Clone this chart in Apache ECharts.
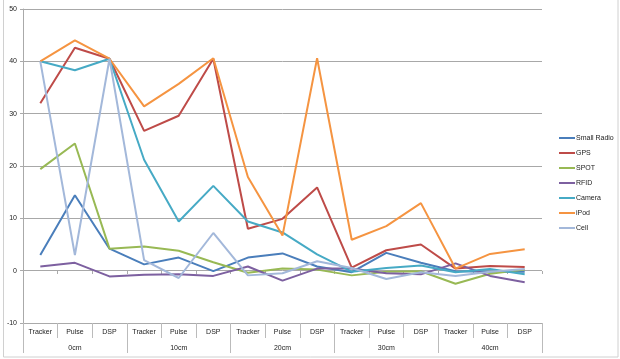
<!DOCTYPE html>
<html>
<head>
<meta charset="utf-8">
<script src="https://cdn.jsdelivr.net/npm/echarts@6/dist/echarts.min.js"></script>
<style>
html,body{margin:0;padding:0;background:#fff;}
#chart{width:620px;height:359px;}
</style>
</head>
<body>
<div id="chart"></div>
<script>
var categories = ['Tracker','Pulse','DSP','Tracker','Pulse','DSP','Tracker','Pulse','DSP','Tracker','Pulse','DSP','Tracker','Pulse','DSP'];
var groups = ['0cm','10cm','20cm','30cm','40cm'];
var seriesNames = ['Small Radio','GPS','SPOT','RFID','Camera','iPod','Cell'];
var smallRadio = [3.0, 14.4, 4.2, 1.2, 2.5, -0.1, 2.5, 3.3, 0.8, -0.3, 3.4, 1.5, -0.1, -0.2, -0.2];
var gps = [32.0, 42.6, 40.5, 26.7, 29.6, 40.5, 8.0, 9.9, 15.9, 0.6, 3.9, 5.0, 0.4, 0.9, 0.7];
var spot = [19.4, 24.3, 4.2, 4.6, 3.8, 1.6, -0.4, 0.4, 0.2, -0.9, -0.2, -0.1, -2.5, -0.6, 0.2];
var rfid = [0.8, 1.5, -1.1, -0.8, -0.7, -1.0, 0.8, -1.9, 0.4, 0.4, -0.5, -0.7, 1.4, -1.0, -2.2];
var camera = [40.0, 38.3, 40.5, 21.2, 9.4, 16.2, 9.4, 7.3, 3.1, -0.2, 0.5, 1.0, -0.3, 0.3, -0.7];
var ipod = [40.0, 44.0, 40.5, 31.4, 35.7, 40.6, 17.9, 6.7, 40.6, 5.9, 8.5, 12.9, 0.4, 3.2, 4.1];
var cell = [40.0, 3.0, 40.5, 2.0, -1.4, 7.2, -0.9, -0.5, 1.8, 0.5, -1.6, -0.3, -1.0, -0.2, 0.3];
var yTicks = [-10, 0, 10, 20, 30, 40, 50];

var values = [smallRadio, gps, spot, rfid, camera, ipod, cell];
var colors = ['#4A7EBB','#BE4B48','#98B954','#7D60A0','#46AAC5','#F59441','#A3B8DA'];
var font = 'Liberation Sans';

var chart = echarts.init(document.getElementById('chart'), null, {renderer:'canvas'});
var series = seriesNames.map(function(n, i){
  return {
    name: n, type: 'line', data: values[i], xAxisIndex: 0,
    symbol: 'none', showSymbol: false,
    lineStyle: {width: 2, color: colors[i]},
    itemStyle: {color: colors[i]}
  };
});
chart.setOption({
  animation: false,
  backgroundColor: '#fff',
  color: colors,
  grid: {left: 23, right: 78, top: 9, bottom: 36, containLabel: false},
  legend: {
    orient: 'vertical', left: 554, top: 128,
    data: seriesNames,
    icon: 'rect', itemWidth: 16, itemHeight: 2, itemGap: 5,
    textStyle: {fontFamily: font, fontSize: 7, color: '#222', lineHeight: 10, padding: [0,0,0,-4]}
  },
  xAxis: [
    {
      type: 'category', data: categories, position: 'bottom', boundaryGap: true,
      axisLine: {show: true, onZero: false, lineStyle: {color: '#AAAAAA', width: 1}},
      axisTick: {show: true, interval: 0, length: 15, lineStyle: {color: '#BBBBBB'}},
      axisLabel: {interval: 0, margin: 6, fontFamily: font, fontSize: 7, color: '#222'},
      splitLine: {show: false}
    },
    {
      type: 'category', data: groups, position: 'bottom', boundaryGap: true,
      axisLine: {show: false, onZero: false},
      axisTick: {show: true, interval: 0, length: 30, lineStyle: {color: '#BBBBBB'}},
      axisLabel: {interval: 0, margin: 22, fontFamily: font, fontSize: 7, color: '#222'},
      splitLine: {show: false}
    },
    {
      type: 'category', data: categories, position: 'top', offset: -262, boundaryGap: true,
      axisLine: {show: false, onZero: false},
      axisTick: {show: true, inside: true, interval: 0, length: 3, lineStyle: {color: '#AAAAAA'}},
      axisLabel: {show: false},
      splitLine: {show: false}
    }
  ],
  yAxis: {
    type: 'value', min: yTicks[0], max: yTicks[yTicks.length-1], interval: 10,
    axisLine: {show: true, lineStyle: {color: '#AAAAAA'}},
    axisTick: {show: true, length: 3, lineStyle: {color: '#AAAAAA'}},
    axisLabel: {margin: 6, fontFamily: font, fontSize: 7, color: '#222'},
    splitLine: {show: true, lineStyle: {color: '#A8A8A8', width: 1}}
  },
  graphic: [
    {type: 'rect', shape: {x: 3.5, y: -2, width: 614.5, height: 359}, style: {fill: 'none', stroke: '#D0D0D0', lineWidth: 1}, silent: true, z: -1}
  ],
  series: series
});
</script>
</body>
</html>
